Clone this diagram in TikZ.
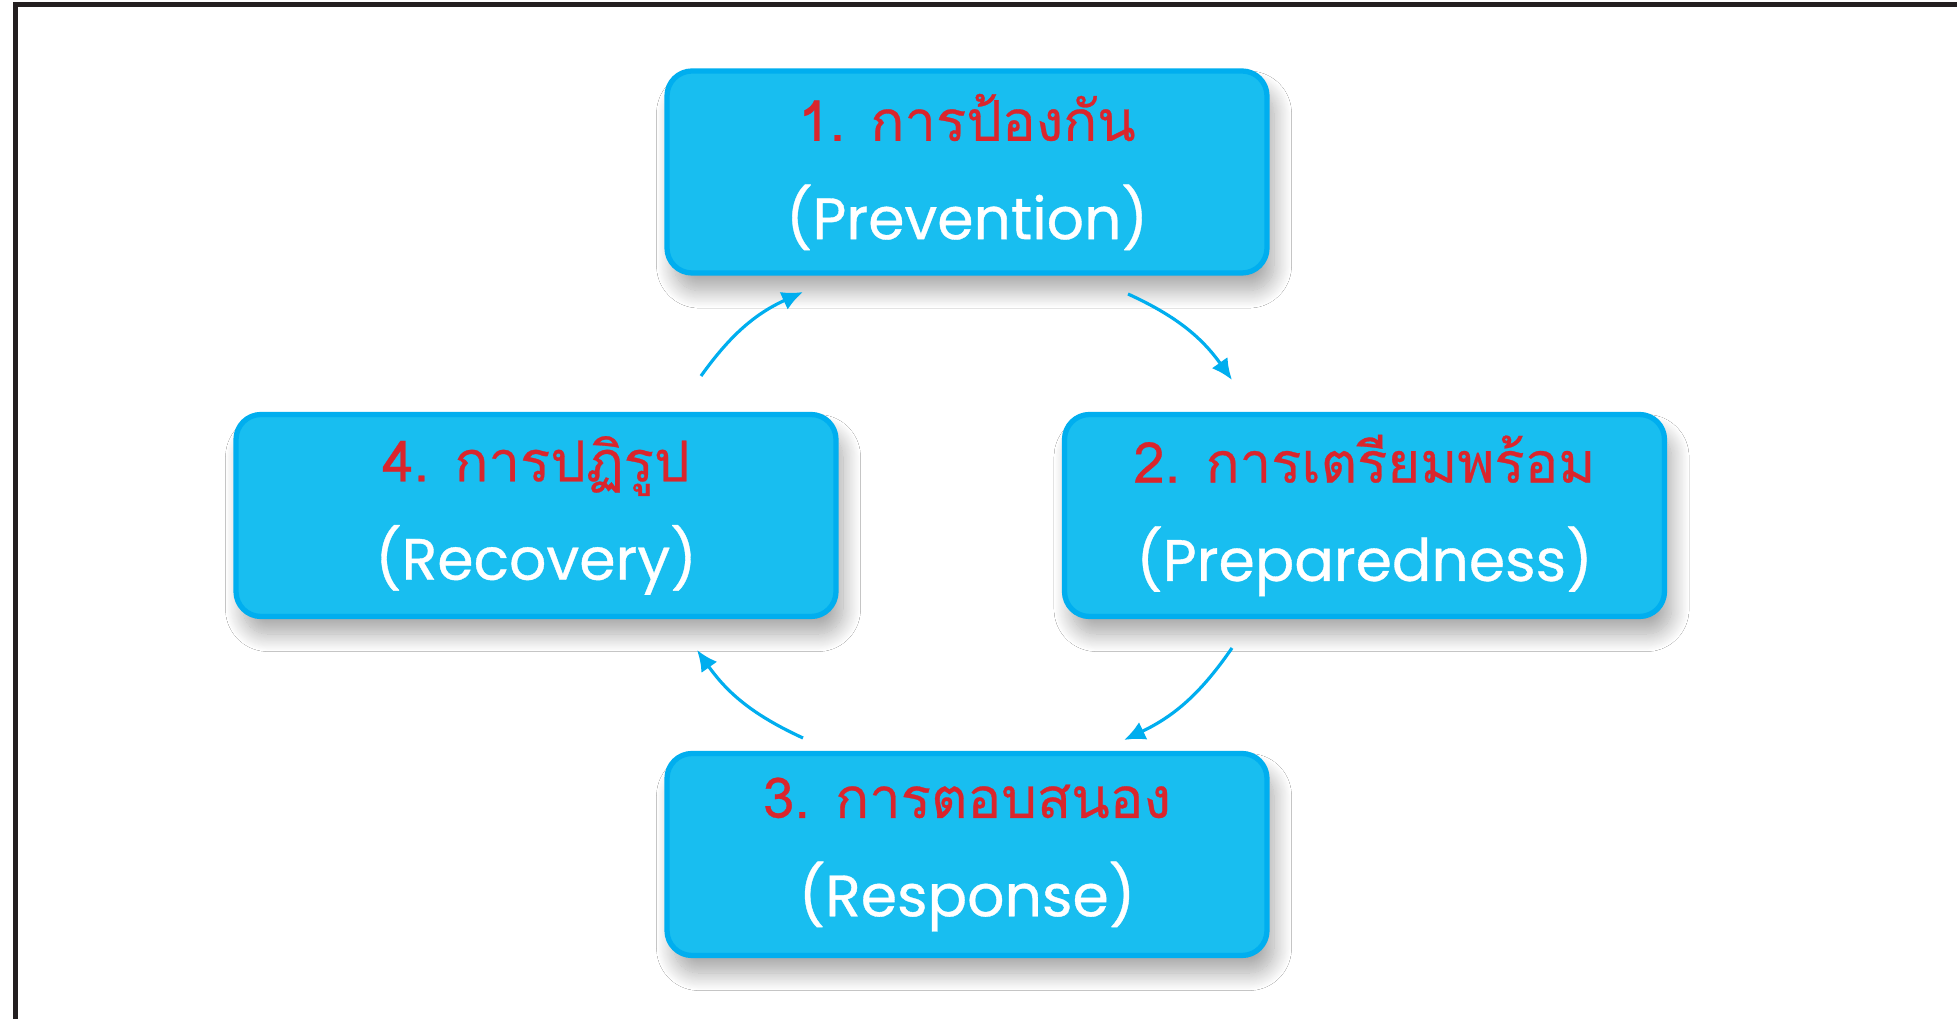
\documentclass[tikz,border=0pt]{standalone}
\usepackage{fontspec}
\newfontfamily\thaifont[Script=Thai, FakeBold=0.5]{Loma}
\newfontfamily\engfont[Scale=1.04, FakeBold=0.6]{Poppins}
\usetikzlibrary{arrows.meta,shadows.blur}
\definecolor{boxfill}{RGB}{24,190,240}
\definecolor{boxline}{RGB}{0,174,239}
\definecolor{labelred}{RGB}{218,37,44}
\definecolor{framegray}{RGB}{35,31,32}
\tikzset{
    phasebox/.style={rounded corners=0.25cm, fill=boxfill, draw=boxline, line width=1.5pt,
        minimum width=6.0cm, minimum height=2.02cm, align=center, text=white,
        font=\fontsize{16pt}{28pt}\selectfont,
        blur shadow={shadow xshift=2pt, shadow yshift=-5pt, shadow blur radius=5pt,
            shadow blur steps=20, shadow opacity=35}},
    cyclearrow/.style={draw=boxline, line width=0.9pt, -{Latex[length=6pt,width=5.5pt]}, bend left=15}
}
\begin{document}
\begin{tikzpicture}
    \useasboundingbox (0, 0) rectangle (19.57, 10.19);
    \fill[white] (0, 0) rectangle (19.57, 10.19);
    \draw[framegray, line width=0.05cm] (0.155, 0) to (0.155, 10.14) to (19.57, 10.14);
    \node[phasebox] (prevention) at (9.67, 8.47) {{\thaifont\color{labelred}1. การป้องกัน}\\{\engfont (Prevention)}};
    \node[phasebox] (preparedness) at (13.645, 5.035) {{\thaifont\color{labelred}2. การเตรียมพร้อม}\\{\engfont (Preparedness)}};
    \node[phasebox] (response) at (9.67, 1.645) {{\thaifont\color{labelred}3. การตอบสนอง}\\{\engfont (Response)}};
    \node[phasebox] (recovery) at (5.36, 5.035) {{\thaifont\color{labelred}4. การปฏิรูป}\\{\engfont (Recovery)}};
    \coordinate (a41s) at (7.01, 6.43);
    \coordinate (a41e) at (8.03, 7.27);
    \coordinate (a12s) at (11.28, 7.25);
    \coordinate (a12e) at (12.32, 6.39);
    \coordinate (a23s) at (12.32, 3.71);
    \coordinate (a23e) at (11.24, 2.79);
    \coordinate (a34s) at (8.03, 2.81);
    \coordinate (a34e) at (6.97, 3.69);
    \draw[cyclearrow] (a41s) to (a41e);
    \draw[cyclearrow] (a12s) to (a12e);
    \draw[cyclearrow] (a23s) to (a23e);
    \draw[cyclearrow] (a34s) to (a34e);
\end{tikzpicture}
\end{document}
